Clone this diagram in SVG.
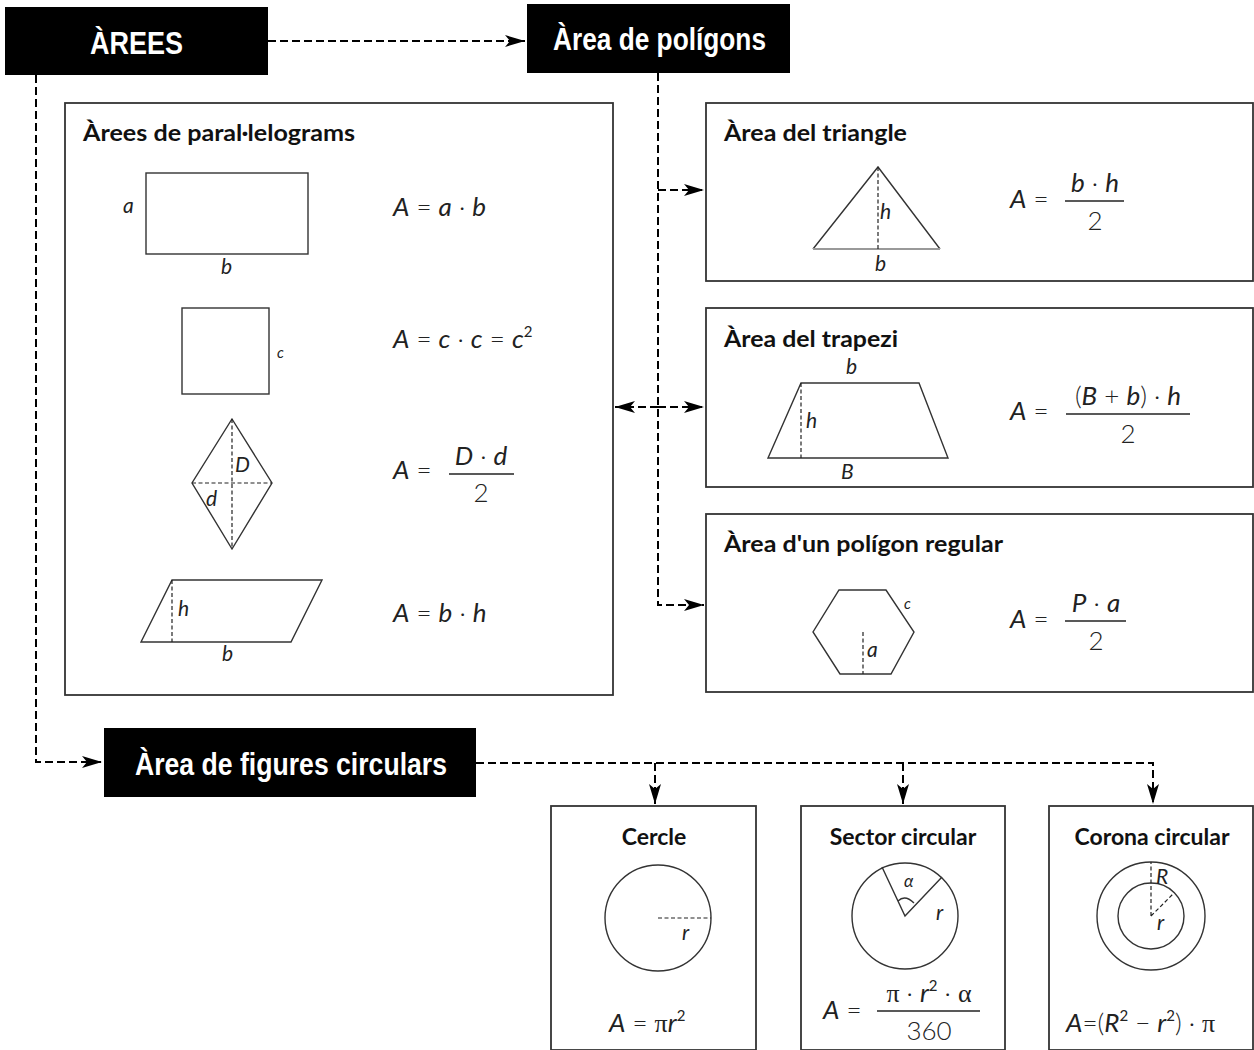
<svg xmlns="http://www.w3.org/2000/svg" width="1254" height="1050" viewBox="0 0 1254 1050">
<style>
.hdr{fill:#000}
.hdrt{fill:#fff;font-family:"Liberation Sans",Arial,sans-serif;font-weight:bold;font-size:32px}
.box{fill:#fff;stroke:#333;stroke-width:1.8}
.ttl{font-family:Lato,"Open Sans",sans-serif;font-weight:bold;font-size:22px;fill:#111}
.ctl{font-family:Lato,"Open Sans",sans-serif;font-weight:bold;font-size:23px;fill:#111;text-anchor:middle}
.m{font-family:Lato,"Noto Sans",sans-serif;font-style:italic;font-weight:normal;font-size:26px;fill:#222}
.mu{font-family:Lato,"Noto Sans",sans-serif;font-style:normal;font-weight:300;font-size:26px;fill:#222}
.sup{font-family:Lato,"Noto Sans",sans-serif;font-style:normal;font-weight:normal;font-size:15px;fill:#222}
.gr{font-family:"Liberation Serif",serif;font-style:normal;font-weight:normal}
.lb{font-family:Lato,"Noto Sans",sans-serif;font-style:italic;font-weight:normal;font-size:21px;fill:#222}
.sm{font-size:15px}
.sh{fill:none;stroke:#333;stroke-width:1.4}
.dsh{fill:none;stroke:#222;stroke-width:1.2;stroke-dasharray:4 2.5}
.con{fill:none;stroke:#000;stroke-width:2;stroke-dasharray:8 4}
.fl{stroke:#222;stroke-width:1.4}
</style>
<defs>
<marker id="ah" markerUnits="userSpaceOnUse" markerWidth="20" markerHeight="12" viewBox="0 0 20 12" refX="20" refY="6" orient="auto-start-reverse">
<path d="M0,0 L20,6 L0,12 L5,6 z" fill="#000"/>
</marker>
</defs>

<g id="connectors">
<path class="con" d="M268,41 H525" marker-end="url(#ah)"/>
<path class="con" d="M36,75 V762 H102" marker-end="url(#ah)"/>
<path class="con" d="M658,73 V605 H704" marker-end="url(#ah)"/>
<path class="con" d="M658,190 H704" marker-end="url(#ah)"/>
<path class="con" d="M658,407 H704" marker-end="url(#ah)"/>
<path class="con" d="M658,407 H615" marker-end="url(#ah)"/>
<path class="con" d="M476,763 H1153 V804" marker-end="url(#ah)"/>
<path class="con" d="M655,763 V804" marker-end="url(#ah)"/>
<path class="con" d="M903,763 V804" marker-end="url(#ah)"/>
</g>

<g id="arees">
<rect class="hdr" x="5" y="7" width="263" height="68"/>
<text class="hdrt" x="90" y="54" textLength="93" lengthAdjust="spacingAndGlyphs">ÀREES</text>
</g>

<g id="area-poligons">
<rect class="hdr" x="527" y="4" width="263" height="69"/>
<text class="hdrt" x="553" y="50" textLength="213" lengthAdjust="spacingAndGlyphs">Àrea de polígons</text>
</g>

<g id="area-figures-circulars">
<rect class="hdr" x="104" y="728" width="372" height="69"/>
<text class="hdrt" x="135" y="775" textLength="312" lengthAdjust="spacingAndGlyphs">Àrea de figures circulars</text>
</g>

<g id="paralelograms">
<rect class="box" x="65" y="103" width="548" height="592"/>
<text class="ttl" x="83" y="141" textLength="272" lengthAdjust="spacingAndGlyphs">Àrees de paral·lelograms</text>
<rect class="sh" x="146" y="173" width="162" height="81"/>
<text class="lb" x="123" y="213">a</text>
<text class="lb" x="221" y="274">b</text>
<text class="m" x="393" y="216">A<tspan class="mu"> = </tspan>a<tspan class="mu"> · </tspan>b</text>

<rect class="sh" x="182" y="308" width="87" height="86"/>
<text class="lb sm" x="277" y="358">c</text>
<text class="m" x="393" y="348">A<tspan class="mu"> = </tspan>c<tspan class="mu"> · </tspan>c<tspan class="mu"> = </tspan>c<tspan class="sup" dy="-11">2</tspan></text>

<path class="sh" d="M232,419 L272,483 L232,549 L192,483 Z"/>
<path class="dsh" d="M232,419 V549 M192,483 H272"/>
<text class="lb" x="235" y="472">D</text>
<text class="lb" x="206" y="506">d</text>
<text class="m" x="393" y="479">A<tspan class="mu"> =</tspan></text>
<text class="m" x="481" y="465" text-anchor="middle">D<tspan class="mu"> · </tspan>d</text>
<line class="fl" x1="449" y1="474" x2="514" y2="474"/>
<text class="mu" x="481" y="502" text-anchor="middle">2</text>

<path class="sh" d="M141,642 L172,580 L322,580 L291,642 Z"/>
<path class="dsh" d="M172,580 V642"/>
<text class="lb" x="178" y="616">h</text>
<text class="lb" x="222" y="661">b</text>
<text class="m" x="393" y="622">A<tspan class="mu"> = </tspan>b<tspan class="mu"> · </tspan>h</text>
</g>

<g id="triangle">
<rect class="box" x="706" y="103" width="547" height="178"/>
<text class="ttl" x="724" y="141" textLength="183" lengthAdjust="spacingAndGlyphs">Àrea del triangle</text>
<path class="sh" d="M940,249 L878,167 L813,249"/>
<line x1="813" y1="249" x2="940" y2="249" stroke="#999" stroke-width="2"/>
<path class="dsh" d="M878,167 V249"/>
<text class="lb" x="880" y="219">h</text>
<text class="lb" x="875" y="271">b</text>
<text class="m" x="1010" y="208">A<tspan class="mu"> =</tspan></text>
<text class="m" x="1095" y="192" text-anchor="middle">b<tspan class="mu"> · </tspan>h</text>
<line class="fl" x1="1065" y1="201" x2="1124" y2="201"/>
<text class="mu" x="1095" y="230" text-anchor="middle">2</text>
</g>

<g id="trapezi">
<rect class="box" x="706" y="308" width="547" height="179"/>
<text class="ttl" x="724" y="347" textLength="174" lengthAdjust="spacingAndGlyphs">Àrea del trapezi</text>
<text class="lb" x="846" y="374">b</text>
<path class="sh" d="M768,458 L801,383 L919,383 L948,458 Z"/>
<path class="dsh" d="M801,383 V458"/>
<text class="lb" x="806" y="428">h</text>
<text class="lb" x="841" y="479">B</text>
<text class="m" x="1010" y="420">A<tspan class="mu"> =</tspan></text>
<text class="m" x="1128" y="405" text-anchor="middle"><tspan class="mu">(</tspan>B<tspan class="mu"> + </tspan>b<tspan class="mu">) · </tspan>h</text>
<line class="fl" x1="1066" y1="414" x2="1190" y2="414"/>
<text class="mu" x="1128" y="443" text-anchor="middle">2</text>
</g>

<g id="poligon-regular">
<rect class="box" x="706" y="514" width="547" height="178"/>
<text class="ttl" x="724" y="552" textLength="279" lengthAdjust="spacingAndGlyphs">Àrea d'un polígon regular</text>
<path class="sh" d="M839,590 L886,590 L914,632 L891,674 L840,674 L813,632 Z"/>
<path class="dsh" d="M863,632 V674"/>
<text class="lb sm" x="904" y="609">c</text>
<text class="lb" x="867" y="657">a</text>
<text class="m" x="1010" y="628">A<tspan class="mu"> =</tspan></text>
<text class="m" x="1096" y="612" text-anchor="middle">P<tspan class="mu"> · </tspan>a</text>
<line class="fl" x1="1065" y1="621" x2="1126" y2="621"/>
<text class="mu" x="1096" y="650" text-anchor="middle">2</text>
</g>

<g id="cercle">
<rect class="box" x="551" y="806" width="205" height="244"/>
<text class="ctl" x="654" y="845">Cercle</text>
<circle class="sh" cx="658" cy="918" r="53"/>
<path class="dsh" d="M658,918 H711"/>
<text class="lb" x="682" y="940">r</text>
<text class="m" x="609" y="1032">A<tspan class="mu"> = </tspan><tspan class="gr">π</tspan>r<tspan class="sup" dy="-11">2</tspan></text>
</g>

<g id="sector">
<rect class="box" x="801" y="806" width="204" height="244"/>
<text class="ctl" x="903" y="845">Sector circular</text>
<circle class="sh" cx="905" cy="916" r="53"/>
<path class="sh" d="M882,867 L905,916 L942,877"/>
<path class="sh" d="M898,901 Q905,894 914,903"/>
<text class="lb gr" x="904" y="887" style="font-size:17px">α</text>
<text class="lb" x="936" y="920">r</text>
<text class="m" x="823" y="1019">A<tspan class="mu"> =</tspan></text>
<text class="m" x="929" y="1002" text-anchor="middle"><tspan class="gr">π</tspan><tspan class="mu"> · </tspan>r<tspan class="sup" dy="-11">2</tspan><tspan class="mu" dy="11"> · </tspan><tspan class="gr">α</tspan></text>
<line class="fl" x1="877" y1="1011" x2="980" y2="1011"/>
<text class="mu" x="929" y="1040" text-anchor="middle">360</text>
</g>

<g id="corona">
<rect class="box" x="1049" y="806" width="204" height="244"/>
<text class="ctl" x="1152" y="845">Corona circular</text>
<circle class="sh" cx="1151" cy="916" r="54"/>
<circle class="sh" cx="1151" cy="916" r="33"/>
<path class="dsh" d="M1151,916 V862 M1151,916 L1174,893"/>
<text class="lb" x="1156" y="884">R</text>
<text class="lb" x="1157" y="930">r</text>
<text class="m" x="1066" y="1032">A<tspan class="mu">=(</tspan>R<tspan class="sup" dy="-11">2</tspan><tspan class="mu" dy="11"> − </tspan>r<tspan class="sup" dy="-11">2</tspan><tspan class="mu" dy="11">) · </tspan><tspan class="gr">π</tspan></text>
</g>
</svg>
